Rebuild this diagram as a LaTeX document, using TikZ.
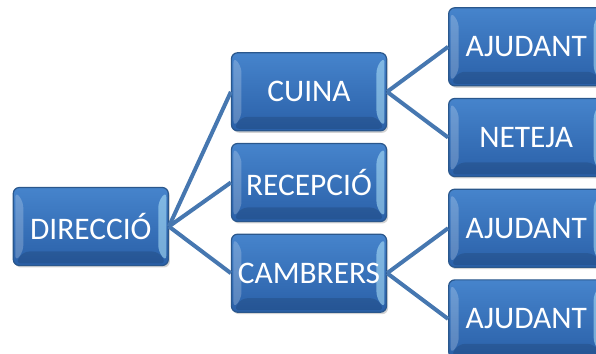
\documentclass[tikz,border=0pt]{standalone}
\usepackage{fontspec}
\setmainfont{Carlito}
\usetikzlibrary{positioning, shadows}

\definecolor{boxtop}{HTML}{4684CC}
\definecolor{boxbot}{HTML}{2A60A8}
\definecolor{boxline}{HTML}{2A578C}
\definecolor{linkcol}{HTML}{4677B0}

\begin{document}
\begin{tikzpicture}[
    node distance=5.75pt and 31pt,
    box/.style={
      rectangle,
      rounded corners=3pt,
      minimum height=39pt,
      minimum width=77.5pt,
      inner sep=1pt,
      top color=boxtop,
      bottom color=boxbot,
      draw=boxline,
      line width=0.6pt,
      text=white,
      font=\fontsize{15.7pt}{17pt}\selectfont,
      drop shadow={shadow xshift=0.8pt, shadow yshift=-1pt, opacity=0.35},
      path picture={
        \fill[white, opacity=0.22]
          ([xshift=1pt, yshift=-2pt]path picture bounding box.north west) --
          ([xshift=5pt, yshift=-7pt]path picture bounding box.north west) --
          ([xshift=5pt, yshift=7pt]path picture bounding box.south west) --
          ([xshift=1pt, yshift=2pt]path picture bounding box.south west) -- cycle;
        \fill[cyan!30, opacity=0.55]
          ([xshift=-1pt, yshift=-2pt]path picture bounding box.north east) --
          ([xshift=-5pt, yshift=-7pt]path picture bounding box.north east) --
          ([xshift=-5pt, yshift=7pt]path picture bounding box.south east) --
          ([xshift=-1pt, yshift=2pt]path picture bounding box.south east) -- cycle;
        \fill[black, opacity=0.12]
          ([xshift=5pt, yshift=7pt]path picture bounding box.south west) --
          ([xshift=-5pt, yshift=7pt]path picture bounding box.south east) --
          ([xshift=-1pt, yshift=1pt]path picture bounding box.south east) --
          ([xshift=1pt, yshift=1pt]path picture bounding box.south west) -- cycle;
      }
    },
    link/.style={
      draw=linkcol,
      line width=2pt
    }
  ]

  \clip (-154.5pt,-85.75pt) rectangle (143.5pt,91.25pt);
  \useasboundingbox (-154.5pt,-85.75pt) rectangle (143.5pt,91.25pt);

  % Middle column
  \node[box] (recepcio) at (0,0) {RECEPCIÓ};
  \node[box, above=of recepcio] (cuina) {CUINA};
  \node[box, below=of recepcio] (cambrers) {CAMBRERS};

  % Root
  \node[box, left=of recepcio, yshift=-22pt] (direccio) {DIRECCIÓ};

  % Right column
  \node[box, right=30.5pt of cuina, yshift=22.5pt] (ajudanta) {AJUDANT};
  \node[box, below=of ajudanta] (neteja) {NETEJA};
  \node[box, below=of neteja] (ajudantb) {AJUDANT};
  \node[box, below=of ajudantb] (ajudantc) {AJUDANT};

  % Connectors
  \draw[link] (direccio.east) -- (cuina.west);
  \draw[link] (direccio.east) -- (recepcio.west);
  \draw[link] (direccio.east) -- (cambrers.west);
  \draw[link] (cuina.east) -- (ajudanta.west);
  \draw[link] (cuina.east) -- (neteja.west);
  \draw[link] (cambrers.east) -- (ajudantb.west);
  \draw[link] (cambrers.east) -- (ajudantc.west);

\end{tikzpicture}
\end{document}
